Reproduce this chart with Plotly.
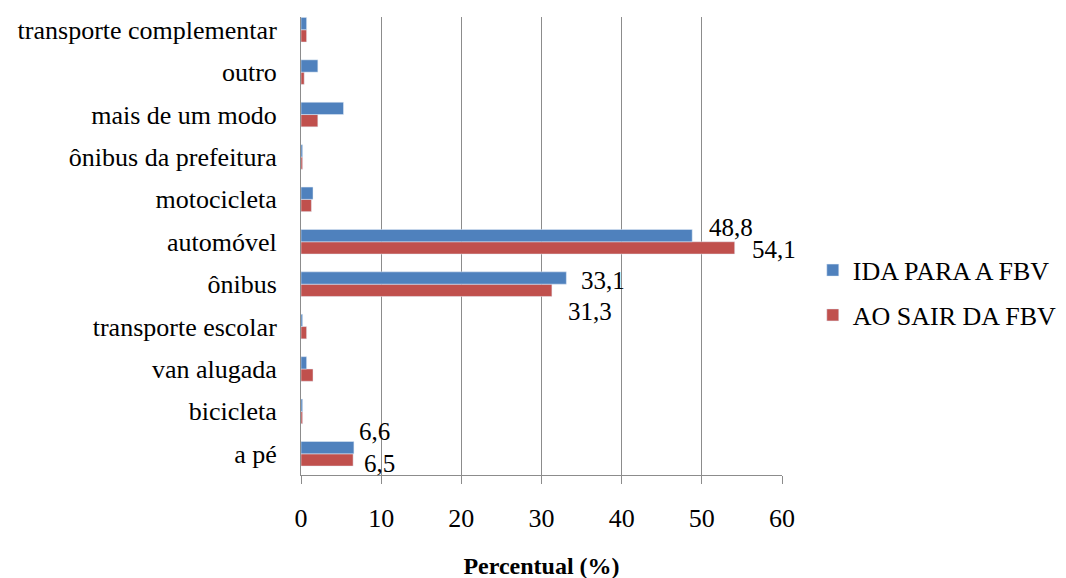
import plotly.graph_objects as go

categories = ["a pé", "bicicleta", "van alugada", "transporte escolar", "ônibus",
              "automóvel", "motocicleta", "ônibus da prefeitura", "mais de um modo",
              "outro", "transporte complementar"]
ida = [6.6, 0.2, 0.7, 0.2, 33.1, 48.8, 1.5, 0.2, 5.3, 2.1, 0.7]
sair = [6.5, 0.2, 1.5, 0.7, 31.3, 54.1, 1.3, 0.2, 2.1, 0.4, 0.7]
series_names = ["IDA PARA A FBV", "AO SAIR DA FBV"]
x_ticks = [0, 10, 20, 30, 40, 50, 60]

# labelled points: (series index, category, text)
labelled = [(0, "a pé", "6,6"), (1, "a pé", "6,5"),
            (0, "ônibus", "33,1"), (1, "ônibus", "31,3"),
            (0, "automóvel", "48,8"), (1, "automóvel", "54,1")]
label_shift = {("a pé", 0): (3, 22), ("a pé", 1): (9, -10),
               ("ônibus", 0): (13, 4), ("ônibus", 1): (14, -27),
               ("automóvel", 0): (15, 14), ("automóvel", 1): (15, -8)}

FONT = "'Liberation Serif', 'Times New Roman', Times, serif"
blue = "#4F81BD"
red = "#C0504D"

fig = go.Figure()
fig.add_trace(go.Bar(y=categories, x=sair, orientation="h", name=series_names[1],
                     marker=dict(color=red), legendgroup="b", legendrank=2))
fig.add_trace(go.Bar(y=categories, x=ida, orientation="h", name=series_names[0],
                     marker=dict(color=blue), legendgroup="a", legendrank=1))

vals = [ida, sair]
for s, cat, txt in labelled:
    v = vals[s][categories.index(cat)]
    dx, dy = label_shift[(cat, s)]
    fig.add_annotation(x=v, y=cat, text=txt, showarrow=False, xanchor="left",
                       yanchor="middle", xshift=dx, yshift=dy,
                       font=dict(family=FONT, size=25, color="black"))

fig.update_layout(
    width=1066, height=578,
    margin=dict(l=293, r=292, t=9, b=111, autoexpand=False),
    paper_bgcolor="white", plot_bgcolor="white",
    barmode="group", bargap=0.42, bargroupgap=0,
    font=dict(family=FONT, size=24, color="black"),
    legend=dict(x=1.064, y=0.398, xanchor="left", yanchor="middle",
                traceorder="grouped", tracegroupgap=8,
                font=dict(family=FONT, size=26, color="black"),
                bgcolor="rgba(0,0,0,0)"),
    showlegend=True,
)
fig.update_xaxes(range=[0, 60], tickvals=x_ticks, showgrid=True, gridcolor="#8c8c8c",
                 gridwidth=1, showline=True, linecolor="#8c8c8c", linewidth=1,
                 ticks="outside", ticklen=8, tickcolor="#8c8c8c", zeroline=False,
                 ticklabelstandoff=12, automargin=False,
                 tickfont=dict(family=FONT, size=26),
                 title=dict(text="<b>Percentual (%)</b>", standoff=24,
                            font=dict(family=FONT, size=24)))
fig.update_yaxes(range=[-0.5, 10.3], showline=True, linecolor="#8c8c8c", linewidth=1,
                 ticks="", showgrid=False, ticklabelstandoff=18, automargin=False,
                 tickfont=dict(family=FONT, size=26))

fig.write_html("out.html")
